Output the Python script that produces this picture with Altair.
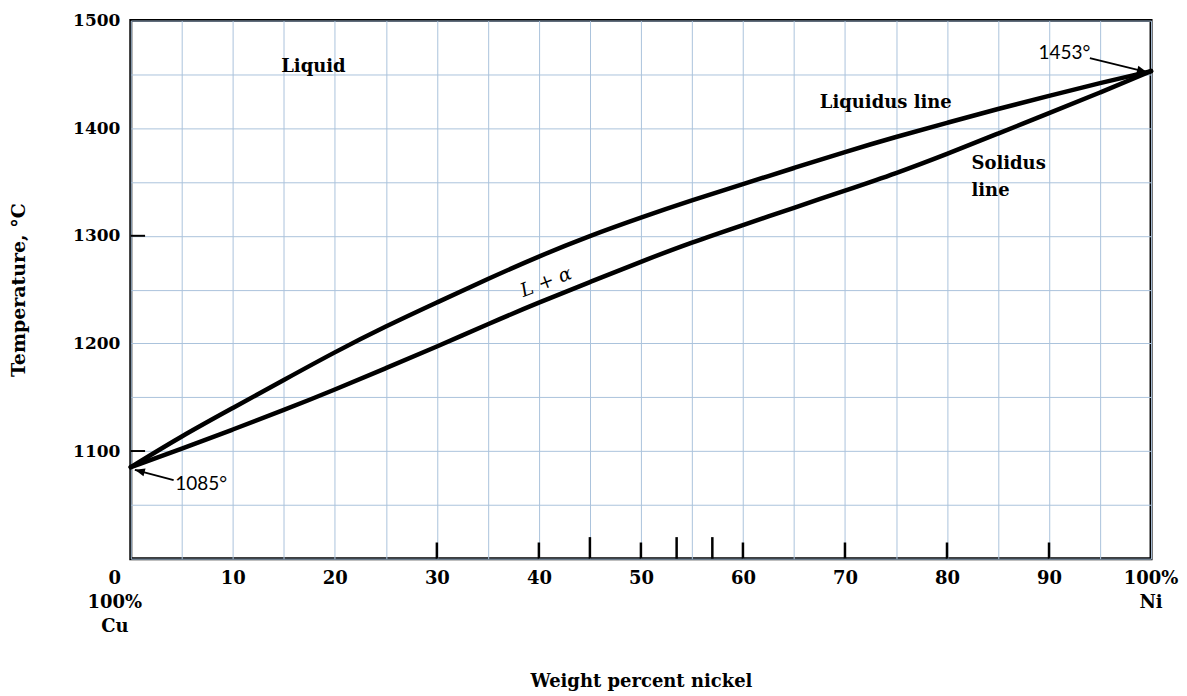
import altair as alt
import pandas as pd

# ---------------- data ----------------
nickel_pct = [0, 5, 10, 15, 20, 25, 30, 35, 40, 45, 50, 55, 60, 65, 70, 75, 80, 85, 90, 95, 100]
liquidus_temp = [1085, 1114, 1140, 1166, 1192, 1216, 1238, 1260, 1281, 1300, 1317, 1333, 1348,
                 1363, 1378, 1392, 1405, 1418, 1430, 1442, 1453]
solidus_temp = [1085, 1102, 1120, 1138, 1157, 1177, 1197, 1218, 1238, 1257, 1276, 1294, 1310,
                1326, 1342, 1358, 1376, 1395, 1414, 1433, 1453]

x_grid_values = list(range(0, 101, 5))
y_grid_values = list(range(1000, 1501, 50))

bottom_tick_pos = [30, 40, 45, 50, 53.5, 57, 60, 70, 80, 90]
bottom_tick_top = [1015, 1015, 1020, 1015, 1020, 1020, 1015, 1015, 1015, 1015]
left_tick_temp = [1100, 1300]
left_tick_end = [1.4, 1.4]

serif_labels = ["Liquid", "Liquidus line"]
serif_label_x = [17.9, 74.0]
serif_label_y = [1457, 1423]

solidus_labels = ["Solidus", "line"]
solidus_label_x = [82.4, 82.4]
solidus_label_y = [1367, 1342]

phase_label = ["L + α"]
phase_label_x = [40.7]
phase_label_y = [1257]

temp_labels = ["1085°", "1453°"]
temp_label_x = [6.9, 91.5]
temp_label_y = [1069, 1470]

arrow_x_start = [4.2, 94.0]
arrow_y_start = [1073, 1465]
arrow_x_end = [0.4, 99.6]
arrow_y_end = [1082.5, 1452]
arrow_head_angle = [195, 15]

end_label_x = [0, 100]
end_label_text = ["0\n100%\nCu", "100%\nNi"]

# ---------------- tables ----------------
curves = pd.DataFrame({
    "x": nickel_pct * 2,
    "t": liquidus_temp + solidus_temp,
    "series": ["Liquidus"] * len(nickel_pct) + ["Solidus"] * len(nickel_pct),
})
ticks_df = pd.DataFrame({"x": bottom_tick_pos, "t": [1000] * len(bottom_tick_pos), "t2": bottom_tick_top})
lticks_df = pd.DataFrame({"x": [0] * len(left_tick_temp), "x2": left_tick_end, "t": left_tick_temp})
serif_df = pd.DataFrame({"x": serif_label_x, "t": serif_label_y, "label": serif_labels})
sol_df = pd.DataFrame({"x": solidus_label_x, "t": solidus_label_y, "label": solidus_labels})
phase_df = pd.DataFrame({"x": phase_label_x, "t": phase_label_y, "label": phase_label})
temp_df = pd.DataFrame({"x": temp_label_x, "t": temp_label_y, "label": temp_labels})
arrow_df = pd.DataFrame({"x": arrow_x_start, "t": arrow_y_start, "x2": arrow_x_end,
                         "t2": arrow_y_end, "ang": arrow_head_angle})
end0_df = pd.DataFrame({"x": end_label_x[:1], "t": [1000], "label": end_label_text[:1]})
end1_df = pd.DataFrame({"x": end_label_x[1:], "t": [1000], "label": end_label_text[1:]})

SERIF = "DejaVu Serif"
GRID = "#abc3dc"

xscale = alt.Scale(domain=[0, 100], nice=False, zero=False)
yscale = alt.Scale(domain=[1000, 1500], nice=False, zero=False)

x_axis = alt.Axis(
    values=x_grid_values,
    labelExpr="datum.value % 10 == 0 && datum.value > 0 && datum.value < 100 ? datum.label : ''",
    ticks=False, domain=False, grid=True, gridColor=GRID, gridWidth=1, gridOpacity=1,
    labelFont=SERIF, labelFontWeight="bold", labelFontSize=18, labelColor="black",
    labelPadding=11, labelOverlap=False, labelFlush=False,
    title="Weight percent nickel", titleFont=SERIF, titleFontWeight="bold",
    titleFontSize=18, titleColor="black", titlePadding=85,
)
y_axis = alt.Axis(
    values=y_grid_values, format="d",
    labelExpr="datum.value % 100 == 0 && datum.value > 1000 ? datum.label : ''",
    ticks=False, domain=False, grid=True, gridColor=GRID, gridWidth=1, gridOpacity=1,
    labelFont=SERIF, labelFontWeight="bold", labelFontSize=17, labelColor="black",
    labelPadding=11, labelOverlap=False, labelFlush=False,
    title="Temperature, °C", titleFont=SERIF, titleFontWeight="bold",
    titleFontSize=19, titleColor="black", titlePadding=44,
)


def X(field):
    return alt.X(field, type="quantitative", scale=xscale, axis=x_axis, title="Weight percent nickel")


def Y(field):
    return alt.Y(field, type="quantitative", scale=yscale, axis=y_axis, title="Temperature, °C")


lines = alt.Chart(curves).mark_line(
    color="black", strokeWidth=4.5, interpolate="basis", strokeCap="round"
).encode(x=X("x"), y=Y("t"), detail="series:N")

bticks = alt.Chart(ticks_df).mark_rule(color="black", strokeWidth=2.5).encode(
    x=X("x"), y=Y("t"), y2="t2:Q",
)
lticks = alt.Chart(lticks_df).mark_rule(color="black", strokeWidth=2).encode(
    x=X("x"), x2="x2:Q", y=Y("t"),
)

serif_text = alt.Chart(serif_df).mark_text(
    font=SERIF, fontWeight="bold", fontSize=18, color="black", align="center", baseline="middle"
).encode(x=X("x"), y=Y("t"), text="label:N")

sol_text = alt.Chart(sol_df).mark_text(
    font=SERIF, fontWeight="bold", fontSize=18, color="black", align="left", baseline="middle"
).encode(x=X("x"), y=Y("t"), text="label:N")

phase_text = alt.Chart(phase_df).mark_text(
    font=SERIF, fontStyle="italic", fontSize=19, color="black", align="center",
    baseline="middle", angle=339
).encode(x=X("x"), y=Y("t"), text="label:N")

temp_text = alt.Chart(temp_df).mark_text(
    font="Lato", fontSize=19, color="black", align="center", baseline="middle"
).encode(x=X("x"), y=Y("t"), text="label:N")

shafts = alt.Chart(arrow_df).mark_rule(color="black", strokeWidth=1.8).encode(
    x=X("x"), x2="x2:Q", y=Y("t"), y2="t2:Q",
)
heads = alt.Chart(arrow_df).mark_point(
    shape="M0,0L-2,-0.8L-2,0.8Z", filled=True, size=100, color="black", opacity=1
).encode(
    x=X("x2"), y=Y("t2"),
    angle=alt.Angle("ang:Q", scale=None),
)

end0 = alt.Chart(end0_df).mark_text(
    font=SERIF, fontWeight="bold", fontSize=18, color="black", align="center",
    baseline="top", lineBreak="\n", lineHeight=24, dx=-16, dy=11
).encode(x=X("x"), y=Y("t"), text="label:N")
end1 = alt.Chart(end1_df).mark_text(
    font=SERIF, fontWeight="bold", fontSize=18, color="black", align="center",
    baseline="top", lineBreak="\n", lineHeight=24, dy=11
).encode(x=X("x"), y=Y("t"), text="label:N")

chart = alt.layer(
    lines, bticks, lticks, serif_text, sol_text, phase_text, temp_text, shafts, heads, end0, end1
).properties(
    width=1022, height=539,
    autosize=alt.AutoSizeParams(type="none"),
    padding={"left": 123, "top": 12, "right": 28, "bottom": 137},
    background="white",
).configure_view(
    stroke="black", strokeWidth=3
)

chart.save("out.html", embed_options={"renderer": "svg", "actions": False})
